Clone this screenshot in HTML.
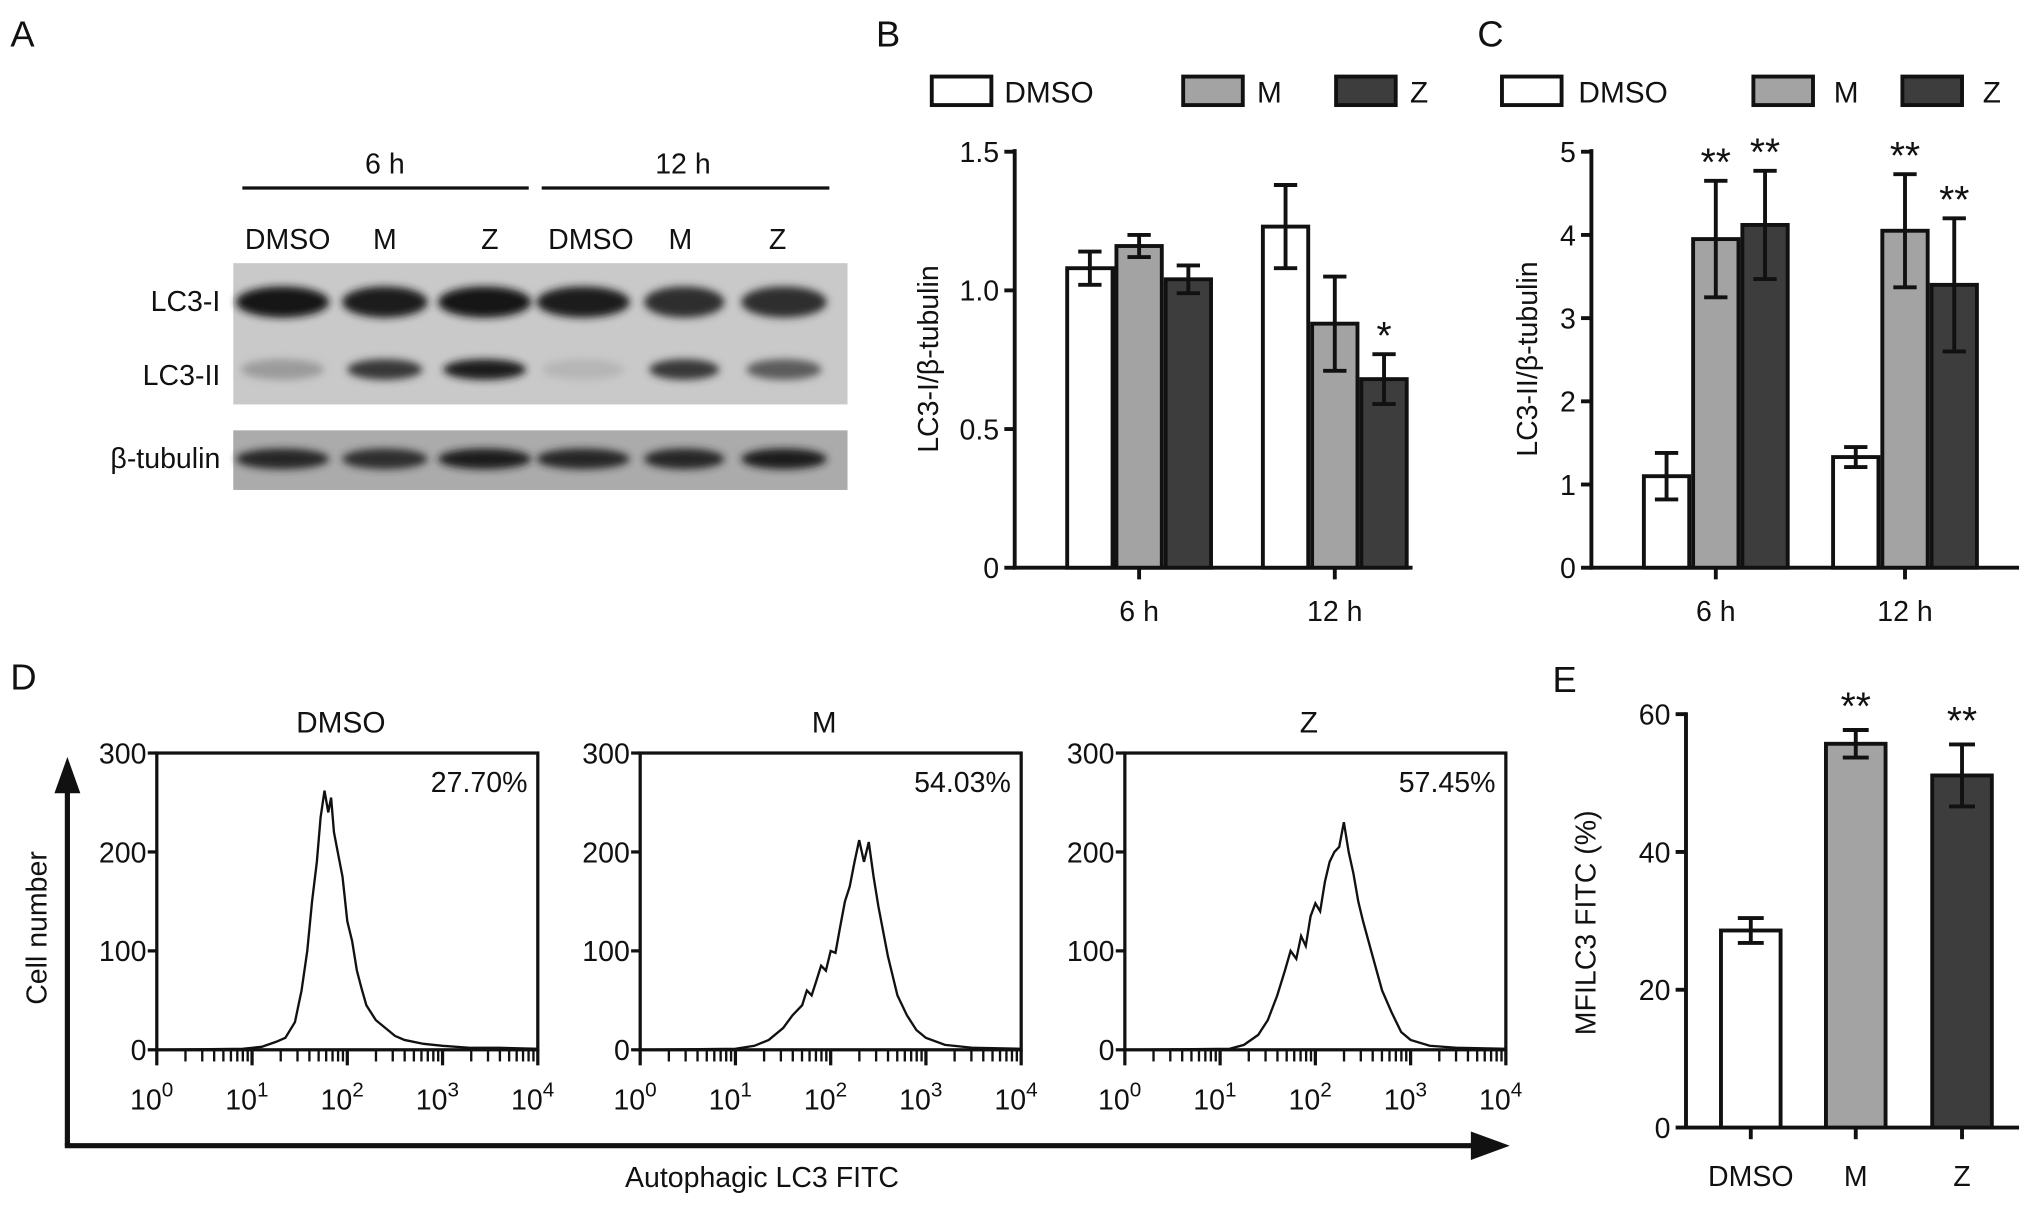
<!DOCTYPE html>
<html><head><meta charset="utf-8"><style>
html,body{margin:0;padding:0;background:#fff}
svg{display:block}
text{font-family:"Liberation Sans",Arial,sans-serif;fill:#111}
</style></head><body>
<svg id="fig" width="2032" height="1208" viewBox="0 0 1568 932" xmlns="http://www.w3.org/2000/svg">
<defs>
<filter id="blur" x="-20%" y="-50%" width="140%" height="200%"><feGaussianBlur stdDeviation="3"/></filter>
</defs>
<g>
<text x="8" y="36" font-size="28">A</text>
<line x1="187" y1="145" x2="408" y2="145" stroke="#111" stroke-width="2.5"/>
<line x1="418" y1="145" x2="640" y2="145" stroke="#111" stroke-width="2.5"/>
<text x="297" y="134" font-size="22" text-anchor="middle">6 h</text>
<text x="527" y="134" font-size="22" text-anchor="middle">12 h</text>
<g font-size="22" text-anchor="middle">
<text x="222" y="192">DMSO</text><text x="297" y="192">M</text><text x="378" y="192">Z</text>
<text x="456" y="192">DMSO</text><text x="525" y="192">M</text><text x="600" y="192">Z</text>
</g>
<rect x="180" y="203" width="474" height="109" fill="#c9c9c9"/>
<rect x="180" y="332" width="474" height="46" fill="#ababab"/>
<g id="bands" filter="url(#blur)"></g>
<g font-size="22" text-anchor="end">
<text x="170" y="240">LC3-I</text><text x="170" y="297">LC3-II</text><text x="170" y="361">β-tubulin</text>
</g>
</g>
<g id="panelB"></g>
<g id="panelC"></g>
<g id="panelD"></g>
<g id="panelE"></g>
</svg>
<script>
// ---- Panel A band intensities ----
const laneCenters = [218, 297, 374, 450, 528, 605];
const laneWidths = [72, 66, 72, 72, 62, 66];
const lc3IDark = [1.0, 0.95, 1.0, 0.95, 0.85, 0.85];
const lc3IIDark = [0.25, 0.8, 0.95, 0.1, 0.8, 0.6];
const tubDark = [0.9, 0.85, 0.95, 0.9, 0.9, 0.95];

// ---- Panel B data ----
const bGroups = ["6 h", "12 h"];
const bSeries = ["DMSO", "M", "Z"];
const bMeans = [[1.08, 1.16, 1.04], [1.23, 0.88, 0.68]];
const bErr = [[0.06, 0.04, 0.05], [0.15, 0.17, 0.09]];
const bTicks = [0, 0.5, 1.0, 1.5];
const bTickLabels = ["0", "0.5", "1.0", "1.5"];
const bStars = [["", "", ""], ["", "", "*"]];

// ---- Panel C data ----
const cMeans = [[1.1, 3.95, 4.12], [1.33, 4.05, 3.4]];
const cErr = [[0.28, 0.7, 0.65], [0.12, 0.68, 0.8]];
const cTicks = [0, 1, 2, 3, 4, 5];
const cTickLabels = ["0", "1", "2", "3", "4", "5"];
const cStars = [["", "**", "**"], ["", "**", "**"]];

// ---- Panel D histogram data (log10 intensity, count) ----
const histTitles = ["DMSO", "M", "Z"];
const histPercents = ["27.70%", "54.03%", "57.45%"];
const histDMSOx = [0,0.9,1.1,1.25,1.35,1.45,1.52,1.58,1.63,1.68,1.72,1.76,1.8,1.83,1.86,1.9,1.95,2.0,2.05,2.1,2.15,2.2,2.3,2.4,2.5,2.6,2.8,3.0,3.3,3.6,4];
const histDMSOy = [0,1,3,8,12,28,60,100,150,190,235,262,240,255,220,200,175,130,110,80,62,45,30,22,14,10,6,4,2,2,1];
const histMx = [0,1.0,1.2,1.35,1.5,1.6,1.7,1.75,1.8,1.85,1.9,1.95,2.0,2.05,2.1,2.15,2.2,2.25,2.3,2.35,2.4,2.45,2.5,2.6,2.7,2.8,2.9,3.0,3.2,3.5,4];
const histMy = [0,1,4,10,22,35,45,60,55,70,85,80,100,98,125,150,165,190,212,190,210,175,145,95,55,35,20,12,5,2,1];
const histZx = [0,1.1,1.25,1.4,1.5,1.6,1.68,1.74,1.8,1.85,1.9,1.95,2.0,2.05,2.1,2.15,2.2,2.25,2.3,2.35,2.4,2.45,2.5,2.6,2.7,2.8,2.9,3.0,3.2,3.5,4];
const histZy = [0,1,5,15,30,55,80,100,92,115,105,135,148,140,170,190,200,205,230,200,178,150,130,95,60,38,18,10,4,2,1];
const histYTicks = [0, 100, 200, 300];
const histXTickLabels = ["0", "1", "2", "3", "4"];

// ---- Panel E data ----
const eCats = ["DMSO", "M", "Z"];
const eMeans = [28.6, 55.7, 51.1];
const eErr = [1.8, 2.0, 4.5];
const eTicks = [0, 20, 40, 60];
const eStars = ["", "**", "**"];

const NS = "http://www.w3.org/2000/svg";
function el(tag, attrs, parent, txt) {
  const e = document.createElementNS(NS, tag);
  for (const k in attrs) e.setAttribute(k, attrs[k]);
  if (txt !== undefined) e.textContent = txt;
  parent.appendChild(e);
  return e;
}
const fills = ["#ffffff", "#a3a3a3", "#3d3d3d"];

// Panel A bands
const bands = document.getElementById('bands');
laneCenters.forEach((c, i) => {
  const w = laneWidths[i];
  const g = v => { const k = Math.round(200 - v * 180); return `rgb(${k},${k},${k})`; };
  let e = el('ellipse', {cx: c, cy: 233, rx: w / 2, ry: 12, fill: g(lc3IDark[i])}, bands);
  
  
  e = el('ellipse', {cx: c, cy: 285, rx: w / 2 - 4, ry: 8, fill: g(lc3IIDark[i])}, bands);
  
  
  e = el('ellipse', {cx: c, cy: 354, rx: w / 2, ry: 8, fill: g(tubDark[i])}, bands);
  
  
});

function barPanel(id, o) {
  const p = document.getElementById(id);
  const y = v => o.y0 - (v / o.vmax) * (o.y0 - o.yTop);
  let t = el('text', {x: o.letterX, y: 36, 'font-size': 28}, p, o.letter);
  
  
  o.legend.forEach((L, i) => {
    let r = el('rect', {x: L[0], y: 59, width: 46, height: 22, fill: fills[i], stroke: '#111', 'stroke-width': 3}, p);
    
    
    let tt = el('text', {x: L[1], y: 79, 'font-size': 23}, p, bSeries[i]);
    
    
  });
  let ax = el('line', {x1: o.ax, y1: o.yTop - 2, x2: o.ax, y2: o.y0 + 1.5, stroke: '#111', 'stroke-width': 3}, p);
  
  
  let xx = el('line', {x1: o.ax - 1.5, y1: o.y0, x2: o.xEnd, y2: o.y0, stroke: '#111', 'stroke-width': 3}, p);
  
  
  o.ticks.forEach((v, i) => {
    let l = el('line', {x1: o.ax - 8, y1: y(v), x2: o.ax, y2: y(v), stroke: '#111', 'stroke-width': 3}, p);
    
    
    let tl = el('text', {x: o.ax - 12, y: y(v) + 8, 'font-size': 22, 'text-anchor': 'end'}, p, o.tickLabels[i]);
    
    
  });
  let yl = el('text', {x: 0, y: 0, 'font-size': 22, 'text-anchor': 'middle', transform: `translate(${o.ylX},${o.ylY}) rotate(-90)`}, p, o.ylabel);
  
  
  bGroups.forEach((gname, gi) => {
    const gx = o.groupX[gi];
    let tk = el('line', {x1: gx, y1: o.y0, x2: gx, y2: o.y0 + 9, stroke: '#111', 'stroke-width': 3}, p);
    
    
    let gl = el('text', {x: gx, y: o.y0 + 41, 'font-size': 22, 'text-anchor': 'middle'}, p, gname);
    
    
    o.means[gi].forEach((m, si) => {
      const bx = gx - 1.5 * o.bw + si * o.bw;
      let b = el('rect', {x: bx + 1.5, y: y(m), width: o.bw - 3, height: o.y0 - y(m), fill: fills[si], stroke: '#111', 'stroke-width': 3}, p);
      
      
      const cx = bx + o.bw / 2, e = o.err[gi][si];
      const eg = el('g', {stroke: '#111', 'stroke-width': 3}, p);
      
      
      el('line', {x1: cx, y1: y(m + e), x2: cx, y2: y(m - e)}, eg);
      el('line', {x1: cx - 9, y1: y(m + e), x2: cx + 9, y2: y(m + e)}, eg);
      el('line', {x1: cx - 9, y1: y(m - e), x2: cx + 9, y2: y(m - e)}, eg);
      const s = o.stars[gi][si];
      if (s) {
        let st = el('text', {x: cx, y: y(m + e) - 4 + (s.length > 1 ? 0 : 0), 'font-size': 30, 'text-anchor': 'middle'}, p, s);
        
        
      }
    });
  });
}
barPanel('panelB', {letter: 'B', letterX: 676, legend: [[719, 775], [913, 970], [1031, 1088]], ax: 783, xEnd: 1090, y0: 438, yTop: 117, vmax: 1.5,
  ticks: bTicks, tickLabels: bTickLabels, ylabel: 'LC3-I/β-tubulin', ylX: 724, ylY: 277, groupX: [879, 1030], bw: 38, means: bMeans, err: bErr, stars: bStars});
barPanel('panelC', {letter: 'C', letterX: 1140, legend: [[1159, 1218], [1353, 1415], [1468, 1530]], ax: 1228, xEnd: 1558, y0: 438, yTop: 117, vmax: 5,
  ticks: cTicks, tickLabels: cTickLabels, ylabel: 'LC3-II/β-tubulin', ylX: 1186, ylY: 277, groupX: [1324, 1470], bw: 38, means: cMeans, err: cErr, stars: cStars});

// Panel D
(function(){
  const p = document.getElementById('panelD');
  let t = el('text', {x: 8, y: 532, 'font-size': 28}, p, 'D');
  
  
  let a1 = el('line', {x1: 52, y1: 884, x2: 52, y2: 600, stroke: '#111', 'stroke-width': 4}, p);
  
  
  let h1 = el('polygon', {points: '52,584 42,612 62,612', fill: '#111'}, p);
  
  
  let a2 = el('line', {x1: 50, y1: 884, x2: 1145, y2: 884, stroke: '#111', 'stroke-width': 4}, p);
  
  
  let h2 = el('polygon', {points: '1165,884 1135,873 1135,895', fill: '#111'}, p);
  
  
  let yl = el('text', {x: 0, y: 0, 'font-size': 22, 'text-anchor': 'middle', transform: 'translate(36,716) rotate(-90)'}, p, 'Cell number');
  
  
  let xl = el('text', {x: 588, y: 916, 'font-size': 22, 'text-anchor': 'middle'}, p, 'Autophagic LC3 FITC');
  
  
  const xs = [histDMSOx, histMx, histZx], ys = [histDMSOy, histMy, histZy];
  const lefts = [121, 494, 868];
  const W = 294, top = 581, bot = 810;
  for (let h = 0; h < 3; h++) {
    const L = lefts[h];
    const g = el('g', {}, p);
    
    
    const X = v => L + v / 4 * W, Y = v => bot - v / 300 * (bot - top);
    let tt = el('text', {x: L + W / 2 - 5, y: 565, 'font-size': 23, 'text-anchor': 'middle'}, g, histTitles[h]);
    
    
    let bx = el('rect', {x: L, y: top, width: W, height: bot - top, fill: 'none', stroke: '#111', 'stroke-width': 2.5}, g);
    
    
    let pc = el('text', {x: L + W - 8, y: top + 30, 'font-size': 22, 'text-anchor': 'end'}, g, histPercents[h]);
    
    
    histYTicks.forEach(v => {
      el('line', {x1: L - 7, y1: Y(v), x2: L, y2: Y(v), stroke: '#111', 'stroke-width': 2.5}, g);
      let tl = el('text', {x: L - 8, y: Y(v) + 8, 'font-size': 22, 'text-anchor': 'end'}, g, String(v));
      
      
    });
    for (let d = 0; d < 4; d++) for (let k = 2; k <= 9; k++) {
      const lx = X(d + Math.log10(k));
      el('line', {x1: lx, y1: bot, x2: lx, y2: bot + 9, stroke: '#111', 'stroke-width': 1.8}, g);
    }
    histXTickLabels.forEach((e, d) => {
      el('line', {x1: X(d), y1: bot, x2: X(d), y2: bot + 12, stroke: '#111', 'stroke-width': 2.5}, g);
      const tl = el('text', {x: X(d) - 4, y: bot + 46, 'font-size': 22, 'text-anchor': 'middle'}, g, '10');
      el('tspan', {dy: -10, 'font-size': 16}, tl, e);
      
      
    });
    let d = '';
    xs[h].forEach((v, i) => { d += (i ? 'L' : 'M') + X(v).toFixed(1) + ',' + Y(ys[h][i]).toFixed(1); });
    let path = el('path', {d: d, fill: 'none', stroke: '#111', 'stroke-width': 1.8}, g);
    
    
  }
})();

// Panel E
(function(){
  const p = document.getElementById('panelE');
  const ax = 1301, y0 = 870, yTop = 551, vmax = 60;
  const y = v => y0 - v / vmax * (y0 - yTop);
  const cx = [1351, 1432, 1514], bw = 46;
  let t = el('text', {x: 1198, y: 534, 'font-size': 28}, p, 'E');
  
  
  let a = el('line', {x1: ax, y1: yTop - 1.5, x2: ax, y2: y0 + 1.5, stroke: '#111', 'stroke-width': 3}, p);
  
  
  let xa = el('line', {x1: ax - 1.5, y1: y0, x2: 1558, y2: y0, stroke: '#111', 'stroke-width': 3}, p);
  
  
  eTicks.forEach(v => {
    el('line', {x1: ax - 8, y1: y(v), x2: ax, y2: y(v), stroke: '#111', 'stroke-width': 3}, p);
    let tl = el('text', {x: ax - 12, y: y(v) + 8, 'font-size': 22, 'text-anchor': 'end'}, p, String(v));
    
    
  });
  let yl = el('text', {x: 0, y: 0, 'font-size': 22, 'text-anchor': 'middle', transform: 'translate(1231,712) rotate(-90)'}, p, 'MFILC3 FITC (%)');
  
  
  eCats.forEach((c, i) => {
    let b = el('rect', {x: cx[i] - bw / 2, y: y(eMeans[i]), width: bw, height: y0 - y(eMeans[i]), fill: fills[i], stroke: '#111', 'stroke-width': 3}, p);
    
    
    const m = eMeans[i], e = eErr[i];
    const eg = el('g', {stroke: '#111', 'stroke-width': 3}, p);
    
    
    el('line', {x1: cx[i], y1: y(m + e), x2: cx[i], y2: y(m - e)}, eg);
    el('line', {x1: cx[i] - 10, y1: y(m + e), x2: cx[i] + 10, y2: y(m + e)}, eg);
    el('line', {x1: cx[i] - 10, y1: y(m - e), x2: cx[i] + 10, y2: y(m - e)}, eg);
    el('line', {x1: cx[i], y1: y0, x2: cx[i], y2: y0 + 9, stroke: '#111', 'stroke-width': 3}, p);
    let tl = el('text', {x: cx[i], y: y0 + 45, 'font-size': 22, 'text-anchor': 'middle'}, p, c);
    
    
    if (eStars[i]) {
      let st = el('text', {x: cx[i], y: y(m + e) - 8, 'font-size': 30, 'text-anchor': 'middle'}, p, eStars[i]);
      
      
    }
  });
})();
</script>
</body></html>
